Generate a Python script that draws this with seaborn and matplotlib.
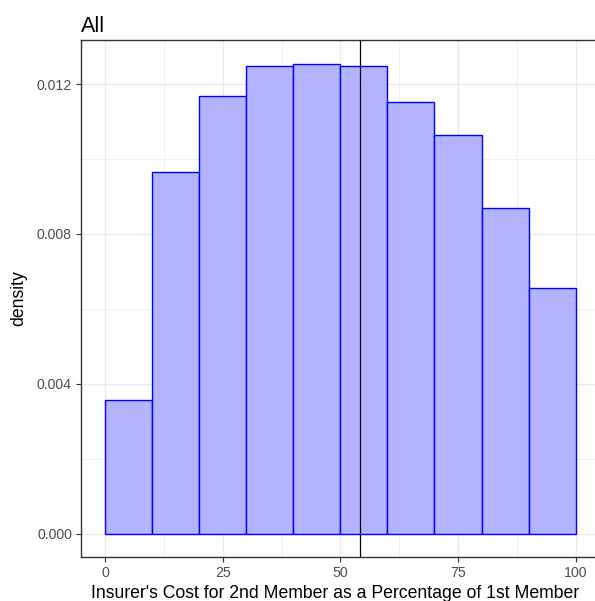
import matplotlib
matplotlib.use("Agg")

import numpy as np
import matplotlib.pyplot as plt
from matplotlib.ticker import MultipleLocator
import seaborn as sns

# bins of the histogram (percent) and the density
bin_edges = [0, 10, 20, 30, 40, 50, 60, 70, 80, 90, 100]
densities = [0.00356, 0.00964, 0.01167, 0.01247, 0.01255,
             0.01247, 0.01153, 0.01065, 0.00868, 0.00655]
mean_value = 54.1

x_ticks = [0, 25, 50, 75, 100]
y_ticks = [0.000, 0.004, 0.008, 0.012]

sns.set_theme(style="white")
plt.rcParams["font.family"] = ["Liberation Sans", "DejaVu Sans"]

fig = plt.figure(figsize=(5.95, 6.01), dpi=100)
W, H = 595, 601
# panel runs past the right edge of the image, as in the reference
left_px, right_px = 81, 605
ax = fig.add_axes([left_px / W, 1 - 557 / H, (right_px - left_px) / W, (557 - 40) / H])

centers = [(a + b) / 2 for a, b in zip(bin_edges[:-1], bin_edges[1:])]

sns.histplot(
    x=centers,
    weights=densities,
    bins=bin_edges,
    stat="count",
    color="#b3b3ff",
    alpha=1,
    edgecolor="blue",
    linewidth=1.0,
    ax=ax,
    zorder=2
)

ax.axvline(mean_value, color="black", linewidth=0.9, zorder=3)

# x scale: 0 -> 105px, 100 -> 575.7px
px_per_unit = (575.7 - 105) / 100
ax.set_xlim(-(105 - left_px) / px_per_unit, (right_px - 105) / px_per_unit)
ymax = max(densities)
ax.set_ylim(-0.05 * ymax, 1.05 * ymax)

ax.set_xticks(x_ticks)
ax.set_yticks(y_ticks)
ax.set_yticklabels([f"{v:.3f}" for v in y_ticks])
ax.xaxis.set_minor_locator(MultipleLocator(12.5))
ax.yaxis.set_minor_locator(MultipleLocator(0.002))

ax.grid(which="major", color="#ebebeb", linewidth=1.0, zorder=0)
ax.grid(which="minor", color="#f0f0f0", linewidth=0.6, zorder=0)
ax.set_axisbelow(True)

for s in ax.spines.values():
    s.set_color("#333333")
    s.set_linewidth(1.0)
ax.spines["right"].set_visible(False)

ax.tick_params(axis="both", which="major", direction="out", length=3.5,
               width=0.8, color="#333333", labelsize=10.2, labelcolor="#4d4d4d",
               pad=3, bottom=True, left=True)
ax.tick_params(axis="both", which="minor", length=0)

ax.set_xlabel("Insurer's Cost for 2nd Member as a Percentage of 1st Member",
              fontsize=12.7, color="black", labelpad=3)
ax.xaxis.set_label_coords((335 - left_px) / (right_px - left_px), -0.055)
ax.set_ylabel("density", fontsize=12.7, color="black", labelpad=7)
ax.set_title("All", loc="left", fontsize=15.5, color="black", pad=6)

fig.savefig("out.png", dpi=100)
plt.close()
